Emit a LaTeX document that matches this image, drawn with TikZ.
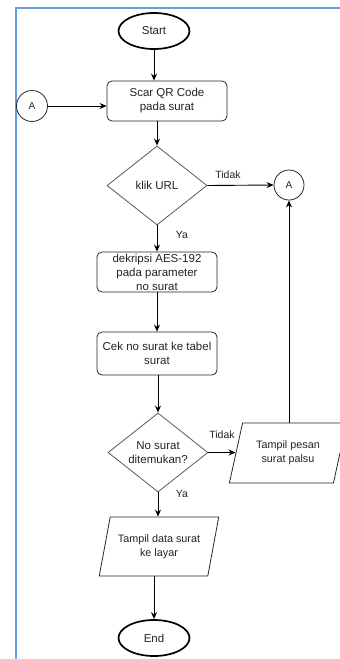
\documentclass[tikz,border=0pt]{standalone}
\usepackage{fontspec}
\setmainfont{Liberation Sans}
\usetikzlibrary{shapes.geometric,arrows.meta}
\definecolor{frameblue}{RGB}{100,160,220}
\definecolor{txt}{RGB}{35,35,35}
\tikzset{
  base/.style={align=center,inner sep=0pt,text=txt,font=\fontsize{11.5}{14}\selectfont},
  term/.style={base,ellipse,draw=black,line width=1.7pt,minimum width=71pt,minimum height=36pt},
  proc/.style={base,rectangle,rounded corners=5pt,draw=black!85,line width=0.8pt,minimum width=120pt},
  dec/.style={base,diamond,draw=black!65,line width=0.8pt,minimum width=100pt,minimum height=79pt,shape aspect=1.27},
  io/.style={base,trapezium,trapezium left angle=69,trapezium right angle=111,trapezium stretches=true,draw=black!85,line width=0.8pt,font=\fontsize{10.8}{14}\selectfont},
  conn/.style={base,circle,draw=black!85,line width=0.8pt,minimum size=31pt,font=\fontsize{10}{12}\selectfont},
  arr/.style={draw=black,line width=0.9pt,-{Stealth[length=7pt,width=6pt]}},
  lbl/.style={text=txt,inner sep=0pt,font=\fontsize{10.5}{12}\selectfont}
}
\begin{document}
\begin{tikzpicture}[x=1pt,y=-1pt]
\useasboundingbox (0,0) rectangle (340,659);
\begin{scope}
\clip (0,0) rectangle (340,659);
\draw[frameblue,line width=2pt] (16,670) -- (16,8) -- (350,8);

\node[term] (start) at (154,31) {Start};
\node[proc,minimum height=40pt] (scan) at (167,101) {Scar QR Code\\pada surat};
\node[conn] (a1) at (32,106) {A};
\node[dec] (d1) at (157,185.5) {klik URL};
\node[conn,minimum size=30pt] (a2) at (289,185) {A};
\node[proc,minimum height=40pt] (dek) at (157,272) {dekripsi AES-192\\pada parameter\\no surat};
\node[proc,minimum height=43pt] (cek) at (157,353.5) {Cek no surat ke tabel\\surat};
\node[dec] (d2) at (158,452.5) {No surat\\ditemukan?};
\node[io,minimum width=118pt,minimum height=60pt] (palsu) at (288,453) {Tampil pesan\\surat palsu};
\node[io,minimum width=120pt,minimum height=59pt] (tampil) at (159,546.5) {Tampil data surat\\ke layar};
\node[term] (end) at (154,638) {End};

\node[lbl] (t1) at (228,175) {Tidak};
\node[lbl] (y1) at (182,235) {Ya};
\node[lbl] (t2) at (222,435) {Tidak};
\node[lbl] (y2) at (182,494) {Ya};

\draw[arr] (start.south) -- (start.south |- scan.north);
\draw[arr] (a1.east) -- (scan.west |- a1.east);
\draw[arr] (d1.north |- scan.south) -- (d1.north);
\draw[arr] (d1.east) -- (a2.west);
\draw[arr] (d1.south) -- (dek.north);
\draw[arr] (dek.south) -- (cek.north);
\draw[arr] (d2.north |- cek.south) -- (d2.north);
\draw[arr] (d2.east) -- (palsu.west |- d2.east);
\draw[arr] (a2.south |- palsu.north) -- (a2.south);
\draw[arr] (d2.south) -- (d2.south |- tampil.north);
\draw[arr] (end.north |- tampil.south) -- (end.north);
\end{scope}
\end{tikzpicture}
\end{document}
